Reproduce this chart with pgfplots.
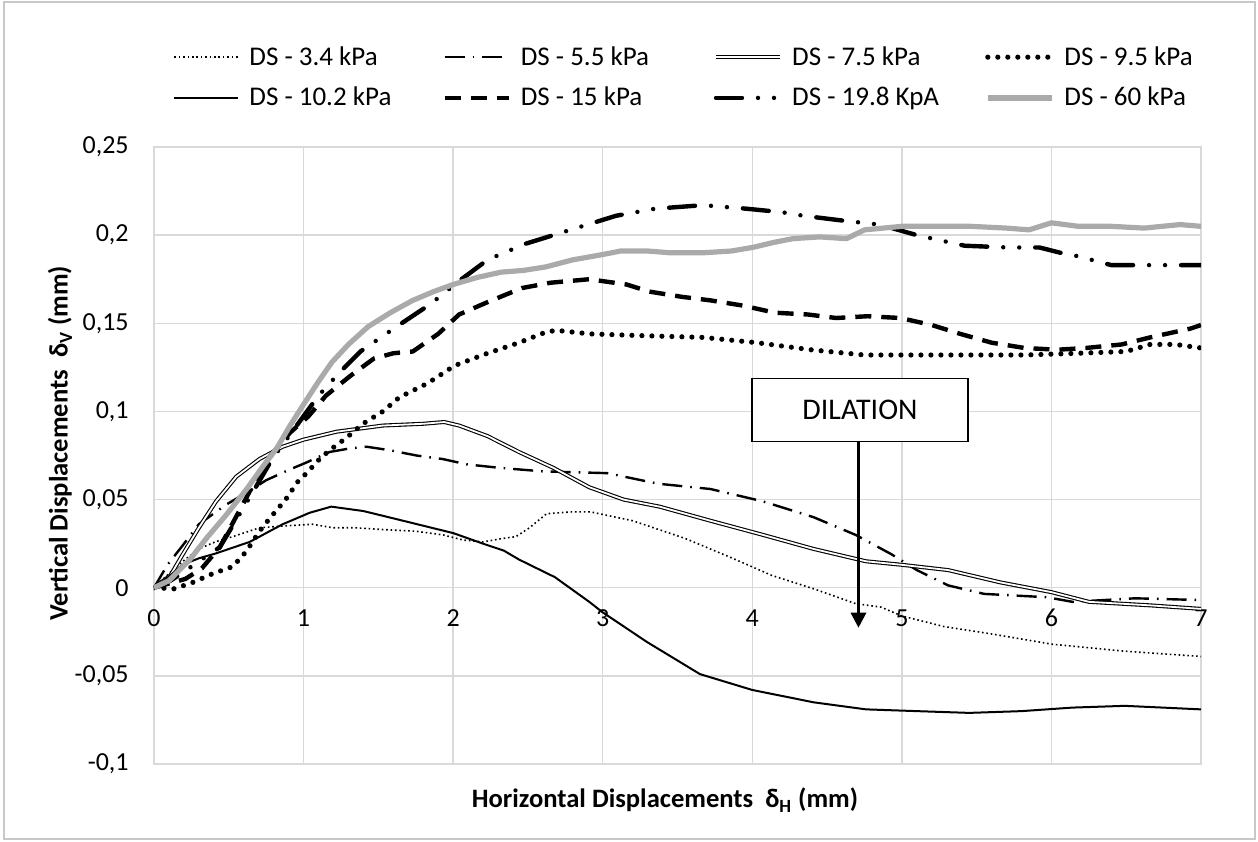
\documentclass[border=0pt]{standalone}
\usepackage{fontspec}
\setmainfont{Carlito}
\usepackage{pgfplots}
\pgfplotsset{compat=1.18}
\usetikzlibrary{arrows.meta}
\definecolor{gridc}{RGB}{217,217,217}
\definecolor{sixty}{RGB}{170,170,170}
\definecolor{framec}{RGB}{200,200,200}
\newcommand{\lbl}[1]{\makebox[94.5pt][l]{#1}}
\begin{document}
\begin{tikzpicture}
\begin{axis}[
    scale only axis, width=523.5pt, height=308.5pt,
    xmin=0, xmax=7, ymin=-0.1, ymax=0.25,
    xtick={0,1,2,3,4,5,6,7},
    xticklabels={0,1,2,3,4,5,6,7},
    ytick={-0.1,-0.05,0,0.05,0.1,0.15,0.2,0.25},
    yticklabels={{-0,1},{-0,05},{0},{0,05},{0,1},{0,15},{0,2},{0,25}},
    scaled ticks=false,
    grid=major, grid style={draw=gridc, line width=0.75pt},
    axis line style={draw=gridc, line width=0.75pt},
    major tick length=0pt,
    tick label style={font=\fontsize{13}{15}\selectfont, inner sep=0pt},
    yticklabel style={anchor=east, xshift=-12.5pt},
    xticklabel style={anchor=center, yshift=73.1pt},
    xlabel={\textbf{Horizontal Displacements \ δ\textsubscript{H} (mm)}},
    xlabel style={at={([yshift=-18pt]axis description cs:0.488,0)}, anchor=center, font=\fontsize{13.3}{15}\selectfont},
    ylabel={\textbf{Vertical Displacements \ δ\textsubscript{V} (mm)}},
    ylabel style={at={([xshift=-47pt]axis description cs:0,0.52)}, anchor=center, font=\fontsize{13.3}{15}\selectfont},
    every axis plot/.append style={line join=round},
    no markers,
    legend columns=4,
    legend image code/.code={\draw[#1] (0pt,0pt) -- (32pt,0pt);},
    legend style={at={(axis description cs:0,1.1126)}, anchor=west, xshift=9.5pt,
        draw=none, fill=none, inner sep=0pt, row sep=7.5pt,
        font=\fontsize{13.5}{16}\selectfont,
        nodes={inner ysep=1pt, inner xsep=2pt},
        /tikz/every odd column/.append style={column sep=3pt},
        /tikz/every even column/.append style={column sep=0pt}},
]
% DS - 3.4 kPa
\addplot[black, line width=0.8pt, dash pattern=on 0.8pt off 1.4pt] coordinates {
(0,0) (0.1,0.008) (0.19,0.0148) (0.3,0.022) (0.415,0.0262) (0.527,0.029) (0.705,0.034) (0.86,0.035)
(1.06,0.036) (1.196,0.034) (1.35,0.034) (1.53,0.033) (1.755,0.032) (1.93,0.030) (2.07,0.027)
(2.2,0.026) (2.335,0.028) (2.42,0.029) (2.51,0.034) (2.625,0.042) (2.79,0.043) (2.92,0.043)
(3.2,0.038) (3.55,0.028) (3.86,0.017) (4.13,0.007) (4.41,-0.0006) (4.69,-0.009) (4.86,-0.011)
(5.0,-0.016) (5.28,-0.022) (5.62,-0.0265) (6.0,-0.032) (6.49,-0.036) (7.0,-0.039)};
\addlegendentry{\lbl{DS - 3.4 kPa}}
% DS - 5.5 kPa
\addplot[black, line width=1.2pt, dash pattern=on 10pt off 4pt on 0.8pt off 4pt] coordinates {
(0,0) (0.09,0.013) (0.192,0.024) (0.3,0.036) (0.48,0.047) (0.64,0.055) (0.75,0.061) (0.906,0.067)
(1.018,0.071) (1.174,0.077) (1.308,0.079) (1.42,0.080) (1.576,0.078) (1.755,0.075) (1.93,0.073)
(2.09,0.070) (2.31,0.068) (2.6,0.066) (3.03,0.065) (3.2,0.062) (3.37,0.059) (3.72,0.056)
(4.07,0.049) (4.41,0.040) (4.69,0.030) (4.93,0.019) (5.1,0.010) (5.31,0.0013) (5.55,-0.0035)
(5.97,-0.0054) (6.14,-0.008) (6.56,-0.006) (7.0,-0.007)};
\addlegendentry{\lbl{DS - 5.5 kPa}}
% DS - 7.5 kPa
\addplot[draw=black, double=white, line width=0.55pt, double distance=0.9pt] coordinates {
(0,0) (0.11,0.007) (0.19,0.0186) (0.3,0.034) (0.415,0.049) (0.55,0.063) (0.705,0.073) (0.86,0.080)
(1.0,0.084) (1.22,0.0885) (1.53,0.092) (1.8,0.093) (1.94,0.094) (2.04,0.092) (2.23,0.086)
(2.44,0.077) (2.67,0.068) (2.91,0.057) (3.14,0.050) (3.38,0.046) (3.72,0.038) (4.07,0.030)
(4.41,0.022) (4.76,0.015) (5.0,0.013) (5.31,0.010) (5.66,0.003) (6.0,-0.0025) (6.25,-0.008)
(6.66,-0.010) (7.0,-0.012)};
\addlegendentry{\lbl{DS - 7.5 kPa}}
% DS - 9.5 kPa
\addplot[black, line width=2.6pt, line cap=round, dash pattern=on 0pt off 5pt] coordinates {
(0,0) (0.136,-0.0006) (0.259,0.003) (0.393,0.008) (0.527,0.012) (0.616,0.0205) (0.705,0.032)
(0.78,0.040) (0.88,0.050) (0.96,0.060) (1.02,0.065) (1.107,0.073) (1.174,0.078) (1.286,0.085)
(1.397,0.093) (1.53,0.100) (1.64,0.108) (1.83,0.116) (2.01,0.126) (2.23,0.133) (2.44,0.139)
(2.62,0.145) (2.69,0.146) (2.91,0.144) (3.26,0.143) (3.67,0.142) (4.03,0.139) (4.39,0.135)
(4.75,0.132) (5.1,0.132) (5.47,0.132) (5.82,0.132) (6.18,0.133) (6.5,0.134) (6.66,0.138)
(6.83,0.138) (7.0,0.136)};
\addlegendentry{\lbl{DS - 9.5 kPa}}
% DS - 10.2 kPa
\addplot[black, line width=1pt] coordinates {
(0,0) (0.11,0.007) (0.19,0.013) (0.3,0.0167) (0.415,0.0195) (0.64,0.026) (0.86,0.036) (1.04,0.0425)
(1.185,0.046) (1.4,0.0435) (1.665,0.038) (2.0,0.031) (2.2,0.025) (2.34,0.021) (2.44,0.016)
(2.68,0.006) (2.91,-0.008) (3.0,-0.014) (3.3,-0.031) (3.65,-0.049) (4.0,-0.058) (4.41,-0.065)
(4.76,-0.069) (5.1,-0.070) (5.45,-0.071) (5.8,-0.070) (6.14,-0.068) (6.49,-0.067) (7.0,-0.069)};
\addlegendentry{\lbl{DS - 10.2 kPa}}
% DS - 15 kPa
\addplot[black, line width=2.2pt, dash pattern=on 8pt off 5pt] coordinates {
(0,0) (0.21,0.005) (0.32,0.011) (0.44,0.023) (0.56,0.042) (0.68,0.061) (0.77,0.074) (0.91,0.088)
(1.03,0.097) (1.15,0.109) (1.31,0.120) (1.47,0.130) (1.6,0.133) (1.73,0.134) (1.90,0.144)
(2.04,0.155) (2.23,0.162) (2.46,0.170) (2.65,0.173) (2.91,0.175) (3.16,0.172) (3.31,0.168)
(3.53,0.165) (3.72,0.163) (3.94,0.160) (4.15,0.156) (4.37,0.155) (4.56,0.153) (4.77,0.154)
(4.99,0.153) (5.2,0.149) (5.39,0.144) (5.6,0.139) (5.82,0.136) (6.04,0.135) (6.23,0.136)
(6.47,0.138) (6.66,0.142) (6.93,0.147) (7.0,0.149)};
\addlegendentry{\lbl{DS - 15 kPa}}
% DS - 19.8 KpA
\addplot[black, line width=2.2pt, line cap=round, dash pattern=on 13pt off 8pt on 0pt off 8pt on 0pt off 8pt] coordinates {
(0,0) (0.11,0.004) (0.25,0.012) (0.44,0.023) (0.56,0.040) (0.68,0.057) (0.79,0.073) (0.98,0.095)
(1.10,0.109) (1.24,0.122) (1.38,0.134) (1.62,0.148) (1.85,0.161) (2.04,0.174) (2.23,0.186)
(2.48,0.195) (2.67,0.200) (2.86,0.205) (3.09,0.211) (3.35,0.215) (3.67,0.217) (3.96,0.215)
(4.2,0.213) (4.34,0.211) (4.63,0.208) (4.85,0.206) (5.1,0.200) (5.42,0.194) (5.71,0.193)
(5.92,0.193) (6.06,0.190) (6.18,0.188) (6.4,0.183) (6.66,0.183) (7.0,0.183)};
\addlegendentry{\lbl{DS - 19.8 KpA}}
% DS - 60 kPa
\addplot[sixty, line width=2.6pt] coordinates {
(0,0) (0.1,0.004) (0.24,0.016) (0.35,0.028) (0.48,0.041) (0.62,0.056) (0.73,0.069) (0.82,0.079)
(0.91,0.092) (1.0,0.104) (1.1,0.117) (1.19,0.128) (1.3,0.138) (1.43,0.148) (1.58,0.156)
(1.73,0.163) (1.87,0.168) (2.0,0.172) (2.16,0.176) (2.32,0.179) (2.47,0.180) (2.62,0.182)
(2.8,0.186) (3.0,0.189) (3.12,0.191) (3.3,0.191) (3.45,0.190) (3.67,0.190) (3.86,0.191)
(4.0,0.193) (4.15,0.196) (4.27,0.198) (4.45,0.199) (4.63,0.198) (4.75,0.203) (5.0,0.205)
(5.2,0.205) (5.46,0.205) (5.7,0.204) (5.85,0.203) (6.0,0.207) (6.18,0.205) (6.4,0.205)
(6.62,0.204) (6.86,0.206) (7.0,0.205)};
\addlegendentry{\lbl{DS - 60 kPa}}
% annotation
\draw[-{Triangle[length=7.5pt,width=7.5pt]}, line width=1.5pt] (axis cs:4.71,0.0829) -- (axis cs:4.71,-0.0227);
\node[draw=black, line width=0.6pt, fill=white, minimum width=108pt, minimum height=31.5pt,
      inner sep=0pt, font=\fontsize{15}{17}\selectfont] at (axis cs:4.72,0.1007) {DILATION};
\end{axis}
\draw[draw=framec, line width=0.75pt] ([shift={(-75pt,-37.5pt)}]current axis.south west) rectangle ([shift={(27pt,72.5pt)}]current axis.north east);
\path ([shift={(-77pt,-38.5pt)}]current axis.south west) rectangle ([shift={(28.5pt,73.5pt)}]current axis.north east);
\end{tikzpicture}
\end{document}
